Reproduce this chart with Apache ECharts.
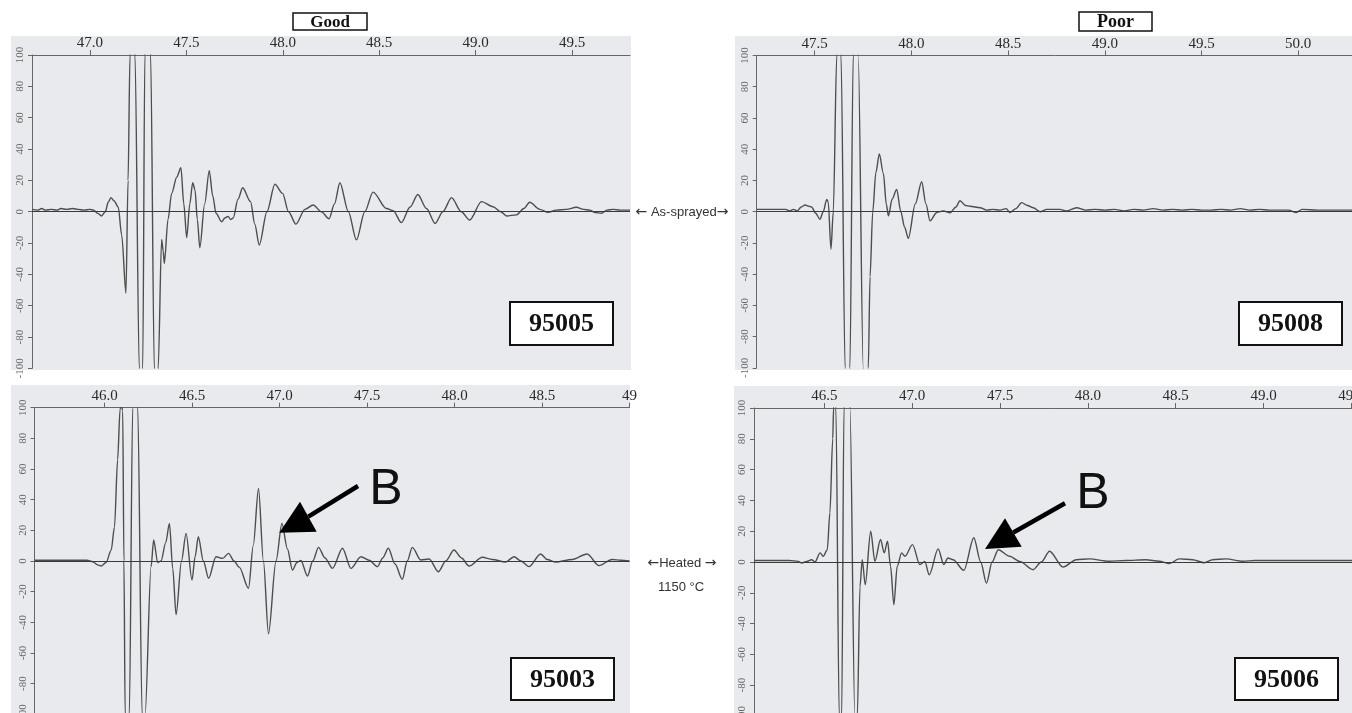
<!DOCTYPE html>
<html><head><meta charset="utf-8">
<script src="https://cdn.jsdelivr.net/npm/echarts@6/dist/echarts.min.js"></script>
<style>html,body{margin:0;padding:0;background:#fff}#c{width:1352px;height:713px}</style>
</head><body><div id="c"></div>
<script>
// ---------- DATA ----------
// Panel 1: 95005, as-sprayed (Good)
const p1T = [46.70,46.73,46.75,46.77,46.80,46.83,46.85,46.88,46.91,46.94,46.97,47.00,47.02,47.04,47.06,47.08,47.095,47.109,47.125,47.147,47.165,47.187,47.198,47.208,47.220,47.234,47.256,47.265,47.274,47.285,47.299,47.315,47.334,47.346,47.354,47.372,47.380,47.386,47.405,47.424,47.450,47.472,47.487,47.502,47.518,47.533,47.545,47.557,47.570,47.595,47.619,47.637,47.654,47.683,47.700,47.717,47.730,47.743,47.768,47.792,47.833,47.855,47.878,47.918,47.959,47.999,48.030,48.068,48.115,48.158,48.200,48.240,48.268,48.296,48.340,48.382,48.425,48.468,48.538,48.572,48.615,48.660,48.700,48.745,48.790,48.830,48.875,48.925,48.969,49.030,49.090,49.130,49.160,49.211,49.250,49.280,49.332,49.375,49.418,49.470,49.522,49.560,49.591,49.620,49.652,49.680,49.712,49.750,49.790,49.800];
const p1A = [1.5,1,2,1,1.5,1,2,1.5,2,1.5,1,1.5,1,-1,-2.7,0,6,9,7,3,-15,-52,20,100,145,100,-100,-145,-100,100,145,100,-100,-145,-100,-17.7,-25,-33,-5,11.7,22,28,5,-16.6,5,18.5,14,-5,-23,5,26.2,10,-1,-6.4,-4,-3,-5,-4,8,15.3,6.4,-8,-21.3,0,17.5,11.7,0,-7.9,1.5,4.3,0,-4.5,5,18.5,0,-18,0,12.5,2,0.7,-7,3,11,2,-7.5,0,9,0,-5.3,6.4,3.2,0,-2.7,-2,2,6,1.5,-0.4,1,1.5,2.8,1.5,1,-0.5,-1,1,1.5,1,1,1];
// Panel 2: 95008, as-sprayed (Poor)
const p2T = [47.20,47.25,47.30,47.35,47.37,47.39,47.41,47.43,47.45,47.47,47.484,47.505,47.527,47.544,47.562,47.570,47.584,47.596,47.614,47.624,47.636,47.657,47.670,47.682,47.699,47.712,47.725,47.751,47.764,47.777,47.786,47.800,47.816,47.834,47.855,47.870,47.881,47.900,47.924,47.945,47.965,47.984,48.020,48.053,48.075,48.096,48.131,48.165,48.200,48.230,48.251,48.280,48.303,48.355,48.389,48.420,48.458,48.490,48.510,48.540,48.570,48.600,48.630,48.665,48.700,48.768,48.800,48.854,48.900,48.950,49.000,49.050,49.100,49.150,49.200,49.250,49.300,49.350,49.400,49.450,49.500,49.550,49.600,49.650,49.700,49.750,49.800,49.850,49.900,49.950,49.990,50.020,50.100,50.200,50.280];
const p2A = [1.5,1.5,1.5,1.5,0.5,1.5,0.5,3,4.3,3.5,3,-1,-4.9,0,7.9,6,-24,0,100,150,100,-100,-150,-100,100,150,100,-100,-150,-100,-41.5,0,25,36.9,24.5,5,-2.7,8,14.3,0,-10,-17,5,19.2,5,-5.9,-0.5,0.5,-0.7,3,7,4,3.5,2.5,1,1.5,1,2,-0.5,2,5.8,4,2.5,0,1.5,1.5,0.5,2.5,1,1.5,1,1.5,0.5,1.5,1,2,1,1.5,1,1.5,1,1,1.5,1,2,1,1.5,1,1,1,-0.5,1.5,1,1,1];
// Panel 3: 95003, heated 1150 °C (Good)
const p3T = [45.60,45.65,45.70,45.75,45.80,45.85,45.90,45.933,45.960,45.981,46.009,46.038,46.057,46.075,46.089,46.095,46.104,46.111,46.118,46.129,46.142,46.161,46.175,46.190,46.215,46.222,46.232,46.266,46.281,46.304,46.323,46.350,46.371,46.390,46.409,46.440,46.466,46.500,46.518,46.536,46.565,46.595,46.637,46.675,46.709,46.740,46.770,46.823,46.850,46.880,46.908,46.937,46.980,47.014,47.045,47.074,47.100,47.122,47.160,47.190,47.223,47.260,47.303,47.360,47.408,47.465,47.512,47.560,47.590,47.622,47.660,47.702,47.730,47.759,47.807,47.855,47.908,47.950,47.997,48.040,48.083,48.159,48.216,48.292,48.340,48.380,48.425,48.492,48.530,48.578,48.673,48.758,48.825,48.901,48.950,49.000];
const p3A = [0.5,0.5,0.5,0.5,0.5,0.5,0.5,-0.5,-2.5,-3.3,-1,7,22,66,99,102,98,0,-100,-140,-100,100,140,100,-100,-140,-100,-3.7,13.7,-1,0,12,24.5,-5,-35,0,18,-12.4,3,15.8,0,-11.3,2.8,1.7,5,0,-4,-17.8,10,47.3,0,-47.5,0,24.5,8,-5.9,-1,0.3,-9.8,0,8.9,2,-4.8,8.3,-4.8,2.8,0.5,-3.7,2,8.3,-2,-11.9,0,8.9,0.7,1.3,-7,0,7.2,2,-3.3,2.4,1,-0.7,2.8,0,-3.7,4.6,1,-0.7,1,4.6,-3,1,0.5,0];
// Panel 4: 95006, heated 1150 °C (Poor)
const p4T = [46.10,46.15,46.20,46.25,46.30,46.352,46.372,46.400,46.428,46.447,46.476,46.494,46.517,46.532,46.548,46.553,46.559,46.566,46.585,46.591,46.599,46.612,46.627,46.646,46.674,46.680,46.688,46.703,46.716,46.733,46.764,46.788,46.820,46.841,46.860,46.877,46.896,46.915,46.940,46.959,47.002,47.044,47.072,47.097,47.148,47.180,47.204,47.233,47.294,47.351,47.390,47.423,47.455,47.490,47.555,47.612,47.688,47.735,47.782,47.858,47.934,48.010,48.120,48.215,48.330,48.406,48.463,48.520,48.596,48.663,48.710,48.787,48.882,48.950,49.050,49.150,49.250,49.350,49.450,49.510];
const p4A = [1,1,1,1,1,0.4,-0.7,0.4,1.5,0,5.9,3.7,8,32,80,100,115,100,-100,-130,-100,100,130,100,-100,-130,-100,-16,1.5,-14.8,20,0.4,14.6,5.9,13.5,-2.8,-27.8,-2.8,5.9,3.7,11.3,-1.7,0.4,-8.3,8.5,-1.7,2.6,1.5,-5.4,15.7,0,-13.7,0,8,3.7,0.4,-5,0,7,-3.3,1.5,2,0.5,1,1.5,0.5,-1,2,1.5,-0.5,1.5,2,0.5,1,1,1,1,1,1,1];

// Tick labels (top time axes)
const p1Ticks = ['47.0','47.5','48.0','48.5','49.0','49.5'];
const p2Ticks = ['47.5','48.0','48.5','49.0','49.5','50.0'];
const p3Ticks = ['46.0','46.5','47.0','47.5','48.0','48.5','49'];
const p4Ticks = ['46.5','47.0','47.5','48.0','48.5','49.0','49.5'];
const timeRanges = [[46.70,49.80],[47.20,50.278],[45.60,49.00],[46.10,49.503]];
const sampleIds = ['95005','95008','95003','95006'];
const groupTitles = ['Good','Poor'];
const rowLabels = ['\u2190 As-sprayed\u2192','\u2190Heated \u2192','1150 \u00B0C'];
const markLetter = 'B';

// ---------- LAYOUT ----------
const grids = [
  {left:32, top:55, width:598, height:313.4},
  {left:756.7, top:55.5, width:595.3, height:312.4},
  {left:34.5, top:407.7, width:595, height:306.6},
  {left:754, top:408, width:598, height:308}
];
const tickSets = [p1Ticks,p2Ticks,p3Ticks,p4Ticks];
const series = [[p1T,p1A],[p2T,p2A],[p3T,p3A],[p4T,p4A]];
const BG = '#e8eaed';
const serif = '"Liberation Serif","Times New Roman",serif';
const sans = '"Liberation Sans",Arial,sans-serif';

const chart = echarts.init(document.getElementById('c'), null, {renderer:'canvas'});

const xAxis = grids.map((g,i)=>{
  const vals = tickSets[i].map(parseFloat);
  return {
    gridIndex:i, type:'value', position:'top', min:timeRanges[i][0], max:timeRanges[i][1],
    axisLine:{show:true, onZero:false, lineStyle:{color:'#666', width:1}},
    axisTick:{show:true, inside:false, length:5, customValues:vals, lineStyle:{color:'#666'}},
    axisLabel:{customValues:vals, margin:4, fontFamily:serif, fontSize:15, color:'#2a2a2a',
      formatter:(v)=>{ const k = vals.findIndex(t=>Math.abs(t-v)<1e-6); return k>=0? tickSets[i][k] : ''; }},
    splitLine:{show:false}
  };
});
const yAxis = grids.map((g,i)=>({
  gridIndex:i, type:'value', min:-100, max:100, interval:20,
  axisLine:{show:true, lineStyle:{color:'#666', width:1}},
  axisTick:{show:true, length:4, lineStyle:{color:'#666'}},
  axisLabel:{rotate:90, margin:6, fontSize:11, color:'#666', fontFamily:serif},
  splitLine:{show:false}
}));
const seriesOpt = series.map((s,i)=>({
  type:'line', xAxisIndex:i, yAxisIndex:i,
  data: s[0].map((t,k)=>[t, s[1][k]]),
  showSymbol:false, smooth:0.3, smoothMonotone:'x', clip:true,
  lineStyle:{color:'#4e4e4e', width:1.4},
  markLine:{silent:true, symbol:['none','none'], label:{show:false},
    lineStyle:{color:'#3a3a3a', width:1.1, type:'solid'}, data:[{yAxis:0}], animation:false},
  z:3
}));

const bgRects = [
  [11,36,620,334],[735,36,617,334],[11,385,619,328],[734,386,618,327]
].map(r=>({type:'rect', z:-100, silent:true, shape:{x:r[0],y:r[1],width:r[2],height:r[3]}, style:{fill:BG}}));

function box(x,y,w,h,txt,fs,lw){
  return [
    {type:'rect', z:50, shape:{x:x,y:y,width:w,height:h}, style:{fill:'#fff', stroke:'#111', lineWidth:lw}},
    {type:'text', z:51, x:x+w/2, y:y+h/2+1, style:{text:txt, font:'bold '+fs+'px '+serif, fill:'#111', textAlign:'center', textVerticalAlign:'middle'}}
  ];
}
function arrow(x0,y0,tip,c1,c2){
  const mx=(c1[0]+c2[0])/2, my=(c1[1]+c2[1])/2;
  return [
    {type:'line', z:60, shape:{x1:x0,y1:y0,x2:mx,y2:my}, style:{stroke:'#000', lineWidth:4.5}},
    {type:'polygon', z:61, shape:{points:[tip,c1,c2]}, style:{fill:'#000'}}
  ];
}
// arrows drawn in DejaVu Sans (bigger glyphs), words in Liberation Sans
function richLabel(s){
  return s.replace(/\u2190/g,'{a|\u2190}').replace(/\u2192/g,'{a|\u2192}');
}
const richStyle = {a:{font:'14px "DejaVu Sans",sans-serif', fill:'#333'}};
function rowText(x,y,s){
  return {type:'text', z:40, x:x, y:y, style:{text:richLabel(s), rich:richStyle, font:'13px '+sans, fill:'#333', textAlign:'center', textVerticalAlign:'middle'}};
}
const graphics = [].concat(
  bgRects,
  box(293,13,74,17,groupTitles[0],17,1.5),
  box(1079,12,73,19,groupTitles[1],18,1.5),
  box(510,302,103,43,sampleIds[0],26,2),
  box(1239,302,103,43,sampleIds[1],26,2),
  box(511,658,103,42,sampleIds[2],26,2),
  box(1235,658,103,42,sampleIds[3],26,2),
  [
    rowText(682,212,rowLabels[0]),
    rowText(682,563,rowLabels[1]),
    rowText(681,587,rowLabels[2]),
    {type:'text', z:62, x:386, y:490, style:{text:markLetter, font:'50px '+sans, fill:'#111', textAlign:'center', textVerticalAlign:'middle'}},
    {type:'text', z:62, x:1093, y:494, style:{text:markLetter, font:'50px '+sans, fill:'#111', textAlign:'center', textVerticalAlign:'middle'}}
  ],
  arrow(358,486,[279.3,532.7],[300,501.7],[316.7,531.7]),
  arrow(1065,503.3,[985,549],[1005,518.3],[1021.7,546.7])
);

chart.setOption({
  animation:false,
  backgroundColor:'#ffffff',
  grid: grids.map(g=>Object.assign({containLabel:false, outerBoundsMode:'none', show:false}, g)),
  xAxis, yAxis, series: seriesOpt,
  graphic:{elements:graphics}
});
</script></body></html>
